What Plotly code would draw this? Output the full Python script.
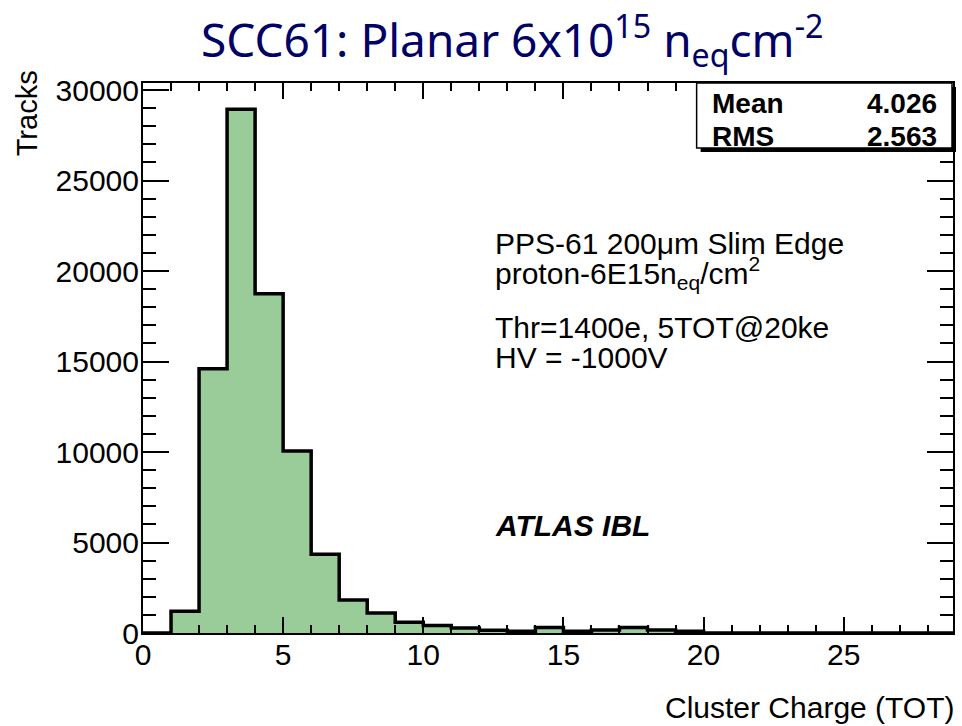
import plotly.graph_objects as go

# Cluster charge spectrum: one bin per integer TOT value, bin k covers [k, k+1)
bin_low = list(range(0, 29))
tracks = [0, 1200, 14600, 28940, 18750, 10050, 4350, 1820, 1100, 600,
          420, 280, 150, 90, 300, 90, 170, 300, 170, 90,
          0, 0, 0, 0, 0, 0, 0, 0, 0]

x_ticks = [0, 5, 10, 15, 20, 25]
y_ticks = [0, 5000, 10000, 15000, 20000, 25000, 30000]
y_tick_labels = [str(v) for v in y_ticks]

stats_names = ["Mean", "RMS"]
stats_values = ["4.026", "2.563"]

title_text = "SCC61: Planar 6x10<sup>15</sup> n<sub>eq</sub>cm<sup>-2</sup>"
info_lines = [
    "PPS-61 200μm Slim Edge",
    "proton-6E15n<sub>eq</sub>/cm<sup>2</sup>",
    "Thr=1400e, 5TOT@20ke",
    "HV = -1000V",
]
atlas_label = "<b><i>ATLAS IBL</i></b>"

W, H = 962, 726
L, R, T, B = 143, 7, 83, 93
PW, PH = W - L - R, H - T - B

def px(xp):
    return (xp - L) / PW

def py(yp):
    return (H - B - yp) / PH

FONT = "Liberation Sans, Arial, sans-serif"
FILL = "#99CC99"

fig = go.Figure()

# filled bins
fig.add_trace(go.Bar(
    x=[b + 0.5 for b in bin_low], y=tracks, width=1,
    marker=dict(color=FILL, line=dict(width=0)),
    hoverinfo="skip", showlegend=False,
))

# histogram outline drawn as a step contour
fig.add_trace(go.Scatter(
    x=bin_low + [bin_low[-1] + 1], y=tracks + [tracks[-1]],
    mode="lines", line=dict(shape="hv", color="black", width=3.5),
    hoverinfo="skip", showlegend=False,
))

axis_common = dict(
    showline=True, linecolor="black", linewidth=2, mirror="ticks",
    ticks="inside", tickcolor="black", tickwidth=1.5,
    showgrid=False, zeroline=False,
    tickfont=dict(family=FONT, size=30, color="black"),
)

fig.update_xaxes(
    range=[0, 28.9], tickvals=x_ticks, ticklen=16,
    minor=dict(dtick=1, tick0=0, ticks="inside", ticklen=8,
               tickwidth=1.5, tickcolor="black"),
    ticklabelstandoff=-6,
    **axis_common,
)
fig.update_yaxes(
    range=[0, 30390], tickvals=y_ticks, ticktext=y_tick_labels, ticklen=26,
    minor=dict(dtick=1000, tick0=0, ticks="inside", ticklen=13,
               tickwidth=1.5, tickcolor="black"),
    ticklabelstandoff=-4,
    **axis_common,
)

annotations = []

# title
annotations.append(dict(
    text=title_text, xref="paper", yref="paper",
    x=px(513), y=py(40), xanchor="center", yanchor="middle",
    showarrow=False,
    font=dict(family="Comic Sans MS, Noto Sans, sans-serif", size=46, color="#000066"),
))

# axis titles
annotations.append(dict(
    text="Cluster Charge (TOT)", xref="paper", yref="paper",
    x=px(959), y=py(708), xanchor="right", yanchor="middle",
    showarrow=False, font=dict(family=FONT, size=30, color="black"),
))
annotations.append(dict(
    text="Tracks", textangle=-90, xref="paper", yref="paper",
    x=px(27), y=py(68), xanchor="center", yanchor="top",
    showarrow=False, font=dict(family=FONT, size=29, color="black"),
))

# run description
info_y = [243, 273, 327, 357]
for line, yp in zip(info_lines, info_y):
    annotations.append(dict(
        text=line, xref="paper", yref="paper",
        x=px(494), y=py(yp), xanchor="left", yanchor="middle",
        showarrow=False, font=dict(family=FONT, size=30, color="black"),
    ))
annotations.append(dict(
    text=atlas_label, xref="paper", yref="paper",
    x=px(494), y=py(525), xanchor="left", yanchor="middle",
    showarrow=False, font=dict(family=FONT, size=30, color="black"),
))

# statistics box
box_l, box_r, box_t, box_b = 698, 954, 83, 148
shadow = 4
shapes = [
    dict(type="rect", xref="paper", yref="paper",
         x0=px(box_l + shadow), x1=px(box_r + shadow),
         y0=py(box_b + shadow), y1=py(box_t + shadow),
         fillcolor="black", line=dict(width=0), layer="above"),
    dict(type="rect", xref="paper", yref="paper",
         x0=px(box_l), x1=px(box_r), y0=py(box_b), y1=py(box_t),
         fillcolor="white", line=dict(color="black", width=1.5), layer="above"),
]
stats_y = [103, 137]
for name, val, yp in zip(stats_names, stats_values, stats_y):
    annotations.append(dict(
        text="<b>%s</b>" % name, xref="paper", yref="paper",
        x=px(711), y=py(yp), xanchor="left", yanchor="middle",
        showarrow=False, font=dict(family=FONT, size=28, color="black"),
    ))
    annotations.append(dict(
        text="<b>%s</b>" % val, xref="paper", yref="paper",
        x=px(941), y=py(yp), xanchor="right", yanchor="middle",
        showarrow=False, font=dict(family=FONT, size=28, color="black"),
    ))

fig.update_layout(
    width=W, height=H,
    margin=dict(l=L, r=R, t=T, b=B, pad=0),
    paper_bgcolor="white", plot_bgcolor="white",
    bargap=0, showlegend=False,
    annotations=annotations, shapes=shapes,
)

fig.write_html("out.html")
